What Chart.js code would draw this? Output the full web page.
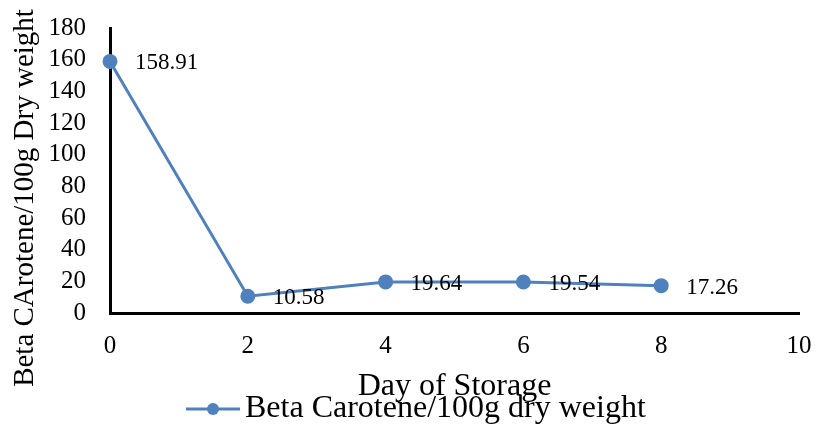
<!DOCTYPE html>
<html lang="en">
<head>
    <meta charset="UTF-8">
    <title>Beta Carotene by Day of Storage</title>
    <script src="https://cdn.jsdelivr.net/npm/chart.js@4.4.0/dist/chart.umd.min.js"></script>
    <style>
        html, body {
            margin: 0;
            padding: 0;
            background: #ffffff;
        }

        .chart-container {
            position: relative;
            width: 818px;
            height: 430px;
        }
    </style>
</head>
<body>
    <div class="chart-container">
        <canvas id="storageChart"></canvas>
    </div>

    <script>
        // Data
        const days = [0, 2, 4, 6, 8];
        const betaCarotene = [158.91, 10.58, 19.64, 19.54, 17.26];
        const seriesLabel = 'Beta Carotene/100g dry weight';
        const xTitle = 'Day of Storage';
        const yTitle = 'Beta CArotene/100g Dry weight';

        const serif = "'Liberation Serif', 'Times New Roman', serif";
        const lineColor = '#4F81BD';

        // Value labels to the right of each point
        const valueLabels = {
            id: 'valueLabels',
            afterDatasetsDraw(chart) {
                const ctx = chart.ctx;
                const meta = chart.getDatasetMeta(0);
                ctx.save();
                ctx.font = '23px ' + serif;
                ctx.fillStyle = '#000';
                ctx.textAlign = 'left';
                ctx.textBaseline = 'middle';
                meta.data.forEach((pt, i) => {
                    ctx.fillText(betaCarotene[i].toFixed(2), pt.x + 25, pt.y + 2);
                });
                ctx.restore();
            }
        };

        // Y title and legend, placed like the original
        const extras = {
            id: 'extras',
            afterDraw(chart) {
                const ctx = chart.ctx;
                ctx.save();
                ctx.fillStyle = '#000';
                ctx.font = '29px ' + serif;
                ctx.textAlign = 'center';
                ctx.textBaseline = 'middle';
                ctx.translate(25, 198);
                ctx.rotate(-Math.PI / 2);
                ctx.fillText(yTitle, 0, 0);
                ctx.restore();

                // legend
                ctx.save();
                const ly = 409;
                ctx.strokeStyle = lineColor;
                ctx.lineWidth = 3;
                ctx.beginPath();
                ctx.moveTo(186, ly);
                ctx.lineTo(240, ly);
                ctx.stroke();
                ctx.fillStyle = lineColor;
                ctx.beginPath();
                ctx.arc(213, ly, 6, 0, Math.PI * 2);
                ctx.fill();
                ctx.fillStyle = '#000';
                ctx.font = '32px ' + serif;
                ctx.textAlign = 'left';
                ctx.textBaseline = 'middle';
                ctx.fillText(seriesLabel, 245, ly);
                ctx.restore();
            }
        };

        const ctx = document.getElementById('storageChart').getContext('2d');
        new Chart(ctx, {
            type: 'line',
            data: {
                datasets: [{
                    label: seriesLabel,
                    data: days.map((d, i) => ({ x: d, y: betaCarotene[i] })),
                    borderColor: lineColor,
                    backgroundColor: lineColor,
                    borderWidth: 3,
                    pointRadius: 6,
                    pointHoverRadius: 6,
                    tension: 0,
                    clip: false
                }]
            },
            options: {
                responsive: true,
                maintainAspectRatio: false,
                animation: false,
                layout: {
                    autoPadding: false,
                    padding: { top: 28, right: 19, bottom: 0, left: 0 }
                },
                plugins: {
                    legend: { display: false },
                    tooltip: { enabled: false }
                },
                scales: {
                    x: {
                        type: 'linear',
                        min: 0,
                        max: 10,
                        grid: { display: false, drawTicks: false },
                        border: { display: true, color: '#000', width: 3 },
                        ticks: {
                            stepSize: 2,
                            padding: 18,
                            autoSkip: false,
                            maxRotation: 0,
                            color: '#000',
                            font: { family: serif, size: 25 }
                        },
                        title: {
                            display: true,
                            text: xTitle,
                            color: '#000',
                            font: { family: serif, size: 32 },
                            padding: { top: 0, bottom: 24 }
                        },
                        afterFit(scale) {
                            scale.height = 117;
                            scale.paddingLeft = 0;
                            scale.paddingRight = 0;
                        }
                    },
                    y: {
                        min: 0,
                        max: 180,
                        grid: { display: false, drawTicks: false },
                        border: { display: true, color: '#000', width: 3 },
                        ticks: {
                            stepSize: 20,
                            padding: 24,
                            autoSkip: false,
                            color: '#000',
                            font: { family: serif, size: 25 }
                        },
                        afterFit(scale) {
                            scale.width = 110;
                            scale.paddingTop = 0;
                            scale.paddingBottom = 0;
                        }
                    }
                }
            },
            plugins: [valueLabels, extras]
        });
    </script>
</body>
</html>
